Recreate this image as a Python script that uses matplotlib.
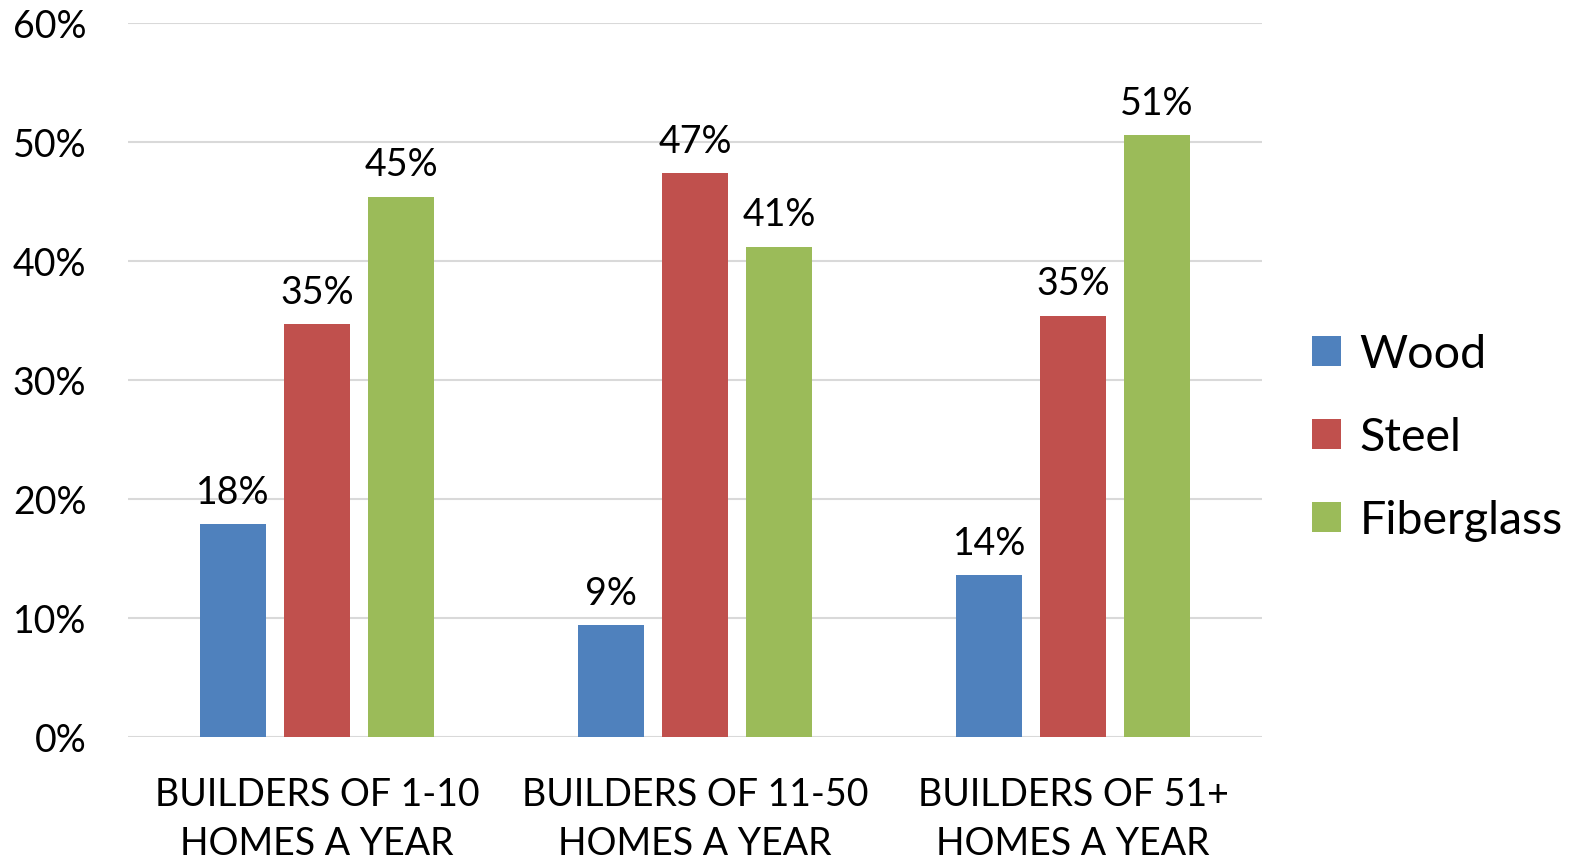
import numpy as np
import matplotlib
matplotlib.use("Agg")
import matplotlib.pyplot as plt

categories = ["BUILDERS OF 1-10\nHOMES A YEAR",
              "BUILDERS OF 11-50\nHOMES A YEAR",
              "BUILDERS OF 51+\nHOMES A YEAR"]
series = ["Wood", "Steel", "Fiberglass"]
wood = [17.9, 9.4, 13.6]
steel = [34.7, 47.4, 35.4]
fiberglass = [45.4, 41.2, 50.6]
colors = ["#4F81BD", "#C0504D", "#9BBB59"]

plt.rcParams['font.family'] = ['Lato', 'DejaVu Sans']

fig = plt.figure(figsize=(15.84, 8.62), dpi=100)
ax = fig.add_axes([0.0808, 0.1439, 0.716, 0.8283])

x = np.arange(len(categories))
width = 0.174
step = 0.222
for i, (name, vals) in enumerate(zip(series, [wood, steel, fiberglass])):
    bars = ax.bar(x + (i - 1) * step, vals, width, color=colors[i], label=name)
    for b, v in zip(bars, vals):
        ax.text(b.get_x() + b.get_width() / 2, v + 1.2, f"{round(v)}%",
                ha="center", va="bottom", fontsize=27)

ax.set_xlim(-0.5, 2.5)
ax.set_ylim(0, 60)
ax.set_yticks(np.arange(0, 61, 10))
ax.set_yticklabels([f"{t}%" for t in range(0, 61, 10)], fontsize=27)
ax.set_xticks(x)
ax.set_xticklabels(categories, fontsize=27, linespacing=1.45)
ax.tick_params(axis="both", length=0)
ax.tick_params(axis="y", pad=30)
ax.tick_params(axis="x", pad=28)
for s in ax.spines.values():
    s.set_visible(False)
ax.grid(axis="y", color="#D9D9D9", linewidth=1.5)
ax.set_axisbelow(True)

leg = ax.legend(loc="center left", bbox_to_anchor=(1.007, 0.42), frameon=False,
                fontsize=33.5, handlelength=0.62, handleheight=0.62,
                handletextpad=0.4, labelspacing=0.88)

fig.savefig("out.png", dpi=100)
